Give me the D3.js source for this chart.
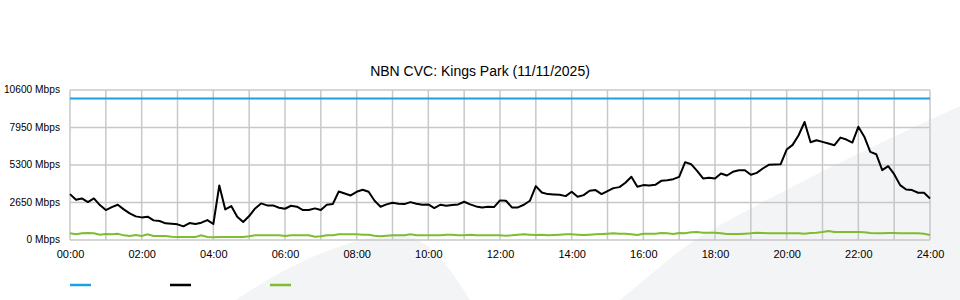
<!DOCTYPE html>
<html>
<head>
<meta charset="utf-8">
<script src="https://cdn.jsdelivr.net/npm/d3@7"></script>
<style>
  body { margin: 0; background: #fff; }
  svg { display: block; font-family: "Liberation Sans", Arial, sans-serif; }
</style>
</head>
<body>
<div id="chart"></div>
<script>
// Заголовок графика
const title = 'NBN CVC: Kings Park (11/11/2025)'

// Отсчёты каждые 10 минут, с 00:00 до 24:00
const stepMinutes = 10

// Ёмкость CVC (синяя линия)
const capacity = [10000, 10000]
const capacityTimes = [0, 1440]

// Общий трафик (чёрная линия), Mbps
const traffic = [
  3243, 2844, 2938, 2679, 2938, 2468, 2115, 2327, 2491, 2162, 1880, 1669, 1598, 1645, 1387, 1340, 1175, 1152, 1105, 964, 1199, 1128, 1222, 1410, 1128,
  3850, 2162, 2397, 1645, 1269, 1692, 2233, 2585, 2444, 2444, 2280, 2209, 2421, 2350, 2115, 2115, 2233, 2115, 2491, 2538, 3431, 3290, 3149, 3408,
  3549, 3408, 2773, 2350, 2515, 2632, 2562, 2538, 2679, 2562, 2491, 2515, 2256, 2491, 2421, 2468, 2515, 2703, 2515, 2374, 2303, 2350, 2327, 2800,
  2773, 2303, 2303, 2491, 2773, 3807, 3361, 3243, 3220, 3196, 3102, 3408, 3055, 3173, 3478, 3525, 3243, 3455, 3666, 3737, 4042, 4465, 3760, 3878,
  3854, 3901, 4183, 4230, 4300, 4465, 5500, 5358, 4888, 4348, 4395, 4348, 4700, 4559, 4818, 4935, 4935, 4606, 4747, 5053, 5311, 5335, 5358, 6392,
  6721, 7403, 8340, 6909, 7050, 6933, 6815, 6698, 7238, 7097, 6886, 8000, 7300, 6228, 6063, 4935, 5217, 4653, 3878, 3572, 3525, 3337, 3337, 2938
]

// Вторая серия (зелёная линия), Mbps
const upload = [
  470, 400, 470, 494, 470, 376, 423, 400, 446, 329, 282, 353, 282, 400, 282, 282, 282, 235, 212, 212, 212, 212, 329, 212, 188,
  212, 212, 212, 212, 212, 259, 329, 329, 329, 329, 329, 282, 329, 329, 329, 329, 235, 259, 329, 329, 400, 400, 400, 400,
  376, 376, 306, 259, 306, 329, 329, 329, 400, 329, 329, 329, 329, 329, 376, 376, 329, 329, 376, 329, 329, 329, 329, 329,
  306, 329, 376, 400, 376, 353, 376, 329, 353, 376, 400, 400, 376, 353, 376, 400, 423, 446, 470, 446, 446, 400, 353, 446,
  446, 446, 494, 470, 423, 494, 470, 541, 564, 517, 517, 517, 470, 423, 423, 423, 446, 470, 517, 494, 470, 470, 470, 470,
  470, 470, 446, 494, 517, 564, 635, 564, 564, 564, 564, 564, 541, 494, 470, 470, 494, 494, 470, 470, 470, 470, 446, 353
]

// Подписи осей
const yTicks = [0, 2650, 5300, 7950, 10600]
const xTickHours = [0, 2, 4, 6, 8, 10, 12, 14, 16, 18, 20, 22, 24]

// Цвета серий (легенда без подписей)
const seriesColors = ['#1ba1e2', '#000000', '#7dbd2f']

const W = 960, H = 300
const plotLeft = 70, plotRight = 930, plotTop = 90, plotBottom = 240

let svg = d3.select('#chart').append('svg')
  .attr('width', W)
  .attr('height', H)

// фон - светлая "волна" водяного знака
let bg = svg.append('g').attr('fill', '#f3f4f6')
bg.append('path').attr('d', 'M 236,300 C 300,256 365,233 400,235 C 428,237 446,262 470,300 Z')
let wave = d3.line().curve(d3.curveNatural)([[620,300],[667,261],[710,231],[790,188],[870,148],[960,106]])
bg.append('path').attr('d', wave + ' L 960,300 Z')

let x = d3.scaleLinear().domain([0, 1440]).range([plotLeft, plotRight])
let y = d3.scaleLinear().domain([0, 10600]).range([plotBottom, plotTop])

// сетка
let grid = svg.append('g').attr('stroke', '#c8c8c8').attr('stroke-width', 1.5)
grid.selectAll('line.h').data(yTicks).join('line')
  .attr('x1', plotLeft).attr('x2', plotRight)
  .attr('y1', d => y(d)).attr('y2', d => y(d))
grid.selectAll('line.v').data(d3.range(0, 25)).join('line')
  .attr('x1', d => x(d * 60)).attr('x2', d => x(d * 60))
  .attr('y1', plotTop).attr('y2', plotBottom)

// ось Y
let yAxis = svg.append('g')
  .attr('transform', `translate(${plotLeft},0)`)
  .call(d3.axisLeft(y).tickValues(yTicks).tickSize(0).tickPadding(10).tickFormat(d => d + ' Mbps'))
yAxis.select('.domain').remove()
yAxis.selectAll('text').attr('font-size', 10.2).attr('fill', '#000').attr('dy', '0.28em')
  .attr('font-family', '"Liberation Sans", Arial, sans-serif')

// ось X
let xAxis = svg.append('g')
  .attr('transform', `translate(0,${plotBottom})`)
  .call(d3.axisBottom(x).tickValues(xTickHours.map(h => h * 60)).tickSize(0).tickPadding(10)
    .tickFormat(d => String(d / 60).padStart(2, '0') + ':00'))
xAxis.select('.domain').remove()
xAxis.selectAll('text').attr('font-size', 11).attr('fill', '#000')
  .attr('font-family', '"Liberation Sans", Arial, sans-serif')

// линии
let line = d3.line().x(d => x(d[0])).y(d => y(d[1]))

svg.append('path')
  .attr('d', line(capacityTimes.map((t, i) => [t, capacity[i]])))
  .attr('fill', 'none').attr('stroke', seriesColors[0]).attr('stroke-width', 2)

svg.append('path')
  .attr('d', line(upload.map((v, i) => [i * stepMinutes, v])))
  .attr('fill', 'none').attr('stroke', seriesColors[2]).attr('stroke-width', 2)

svg.append('path')
  .attr('d', line(traffic.map((v, i) => [i * stepMinutes, v])))
  .attr('fill', 'none').attr('stroke', seriesColors[1]).attr('stroke-width', 2)
  .attr('stroke-linejoin', 'round')

// заголовок
svg.append('text')
  .attr('x', 480).attr('y', 76)
  .attr('text-anchor', 'middle')
  .attr('font-size', 14)
  .text(title)

// легенда
svg.append('g').selectAll('line').data(seriesColors).join('line')
  .attr('x1', (d, i) => 70 + i * 100).attr('x2', (d, i) => 91 + i * 100)
  .attr('y1', 285).attr('y2', 285)
  .attr('stroke', d => d).attr('stroke-width', 2.5)
</script>
</body>
</html>
